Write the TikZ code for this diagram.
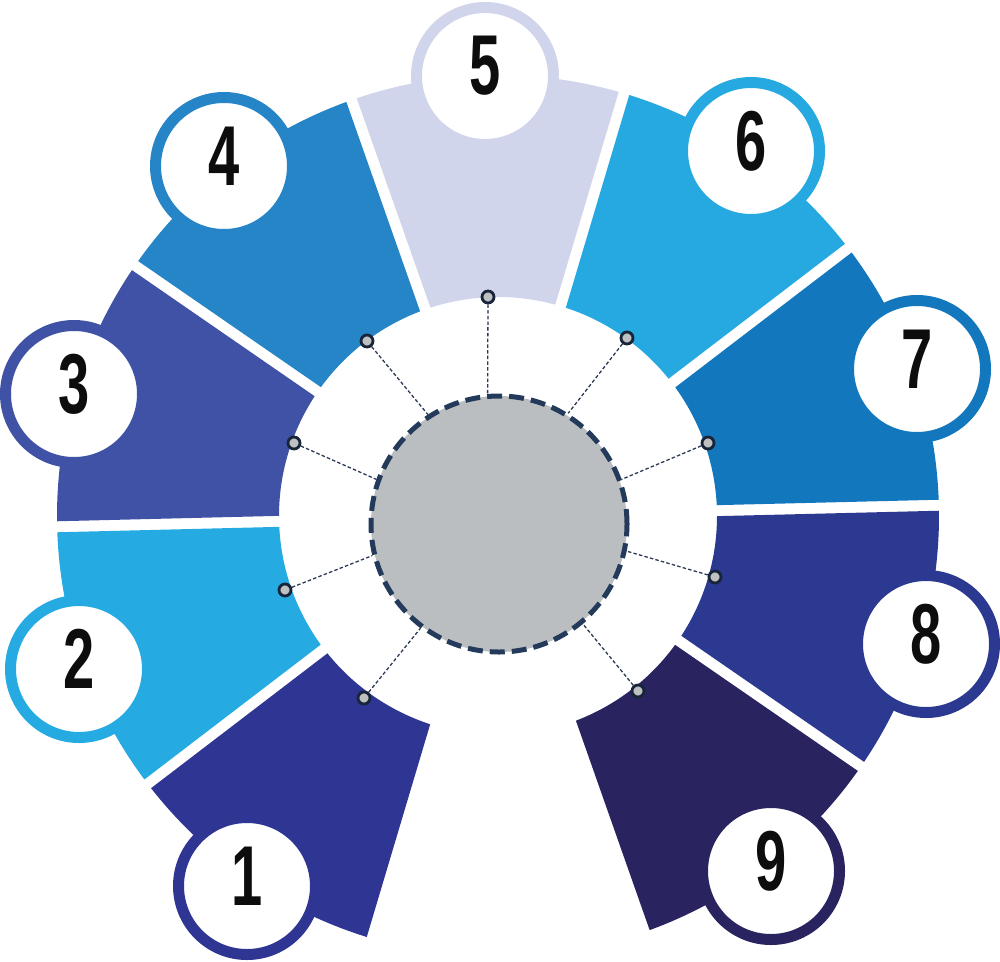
\documentclass[tikz,border=0pt]{standalone}
\usepackage{fontspec}
\setmainfont{Liberation Sans}
\usepackage{graphicx}
\usetikzlibrary{calc}
\definecolor{c1}{HTML}{2E3592}
\definecolor{c2}{HTML}{25ABE2}
\definecolor{c3}{HTML}{3F52A5}
\definecolor{c4}{HTML}{2585C7}
\definecolor{c5}{HTML}{D1D5EC}
\definecolor{c6}{HTML}{25A9E0}
\definecolor{c7}{HTML}{1277BD}
\definecolor{c8}{HTML}{2B3990}
\definecolor{c9}{HTML}{29235F}
\definecolor{hubgray}{HTML}{BBBEC1}
\definecolor{hubdash}{HTML}{233A5B}
\definecolor{dotgray}{HTML}{BEC0C2}
\definecolor{dotdark}{HTML}{17243A}
\definecolor{conncol}{HTML}{2C3A55}
\definecolor{numcol}{HTML}{0D0D0D}
\begin{document}
\begin{tikzpicture}[x=1pt,y=1pt,
  badge/.style={circle, fill=white, line width=11pt, minimum size=137pt, inner sep=0pt},
  num/.style={font=\fontsize{85}{85}\selectfont\bfseries, text=numcol, inner sep=0pt},
  dotnode/.style={circle, fill=dotgray, draw=dotdark, line width=2.8pt, minimum size=12pt, inner sep=0pt},
  conn/.style={draw=conncol, line width=1.3pt, dash pattern=on 3.5pt off 2.2pt},
  hub/.style={circle, fill=hubgray, draw=hubdash, line width=5pt, dash pattern=on 15pt off 7pt, minimum size=256pt, inner sep=0pt}
]
\useasboundingbox (0,0) rectangle (1000,-961);
\coordinate (C) at (498,-516);
% ring segments
\foreach \k/\col in {1/c1,2/c2,3/c3,4/c4,5/c5,6/c6,7/c7,8/c8,9/c9}{
  \pgfmathsetmacro{\aone}{91.4+36*(5-\k)-18}
  \pgfmathsetmacro{\oa}{\aone+0.714}
  \pgfmathsetmacro{\ob}{\aone+36-0.714}
  \pgfmathsetmacro{\ia}{\aone+1.439}
  \pgfmathsetmacro{\ib}{\aone+36-1.439}
  \fill[fill=\col] ($(C)+(\oa:441)$) arc[start angle=\oa, end angle=\ob, radius=441pt]
     -- ($(C)+(\ib:219)$) arc[start angle=\ib, end angle=\ia, radius=219pt] -- cycle;
}
% hub
\node[hub] (hub) at (499,-524) {};
% dots
\node[dotnode] (d1) at (364,-698) {};
\node[dotnode] (d2) at (285,-590) {};
\node[dotnode] (d3) at (294,-443) {};
\node[dotnode] (d4) at (367,-341) {};
\node[dotnode] (d5) at (488,-297) {};
\node[dotnode] (d6) at (627,-338) {};
\node[dotnode] (d7) at (708,-443) {};
\node[dotnode] (d8) at (715,-577) {};
\node[dotnode] (d9) at (638,-691) {};
% connectors
\draw[conn] (d1) -- (hub.233.4);
\draw[conn] (d2) -- (hub.194.3);
\draw[conn] (d3) -- (hub.160.5);
\draw[conn] (d4) -- (hub.123.4);
\draw[conn] (d5) -- (hub.95.3);
\draw[conn] (d6) -- (hub.58.1);
\draw[conn] (d7) -- (hub.20.5);
\draw[conn] (d8) -- (hub.-12.2);
\draw[conn] (d9) -- (hub.-50.8);
% badges
\node[badge, draw=c1] (b1) at (247,-886) {};
\node[badge, draw=c2] (b2) at (79,-669) {};
\node[badge, draw=c3] (b3) at (74,-394) {};
\node[badge, draw=c4] (b4) at (224,-166) {};
\node[badge, draw=c5] (b5) at (485,-76) {};
\node[badge, draw=c6] (b6) at (751,-151) {};
\node[badge, draw=c7] (b7) at (917,-369) {};
\node[badge, draw=c8] (b8) at (926,-644) {};
\node[badge, draw=c9] (b9) at (771,-871) {};
% numbers
\foreach \k in {1,...,9}{
  \node[num] (n\k) at ($(b\k)+(0,10)$) {\scalebox{0.66}[1]{\k}};
}
\end{tikzpicture}
\end{document}
